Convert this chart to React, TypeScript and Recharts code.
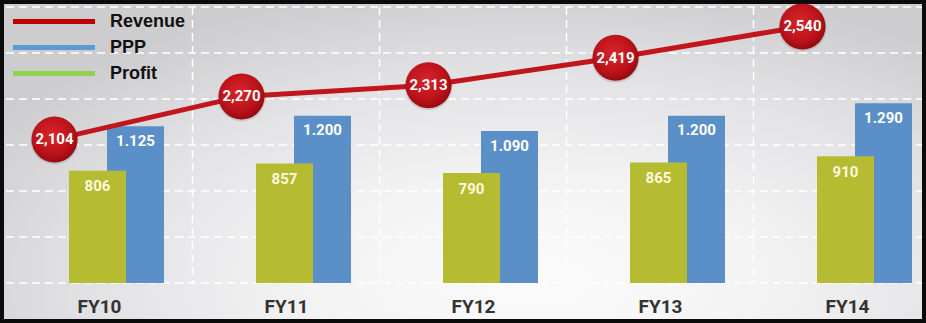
import React from "react";
import {
  ComposedChart,
  Bar,
  Line,
  XAxis,
  YAxis,
  CartesianGrid,
  LabelList,
} from "recharts";

// Данные
const YEARS = ["FY10", "FY11", "FY12", "FY13", "FY14"];
const REVENUE = [2104, 2270, 2313, 2419, 2540];
const PPP = [1125, 1200, 1090, 1200, 1290];
const PROFIT = [806, 857, 790, 865, 910];

const SERIES_NAMES = ["Revenue", "PPP", "Profit"];
const LEGEND_COLORS = ["#c00000", "#5b9bd5", "#92d050"];

// ось для столбиков: шаг сетки
const BAR_TICKS = [0, 330, 660, 990, 1320, 1650, 1980];
const REVENUE_DOMAIN = [1550, 2615];

const RED = "#c3151c";
const BAR_GREEN = "#b5bc31";
const BAR_BLUE = "#5b8fc8";

const rows = YEARS.map((year, i) => ({
  year,
  revenue: REVENUE[i],
  ppp: PPP[i],
  profit: PROFIT[i],
}));

const fmtDot = (v: number) => v.toLocaleString("de-DE");
const fmtComma = (v: number) => v.toLocaleString("en-US");

function RevenueDot(props: any) {
  const { cx, cy, value, index } = props;
  if (cx == null || cy == null) return null;
  return (
    <g key={`rev-${index}`}>
      <circle cx={cx} cy={cy + 1} r={24} fill="rgba(0,0,0,0.12)" />
      <circle cx={cx} cy={cy} r={23} fill="url(#revGrad)" />
      <text
        x={cx}
        y={cy}
        textAnchor="middle"
        dominantBaseline="central"
        fill="#ffffff"
        fontSize={15}
        fontWeight={700}
        fontFamily="Roboto, sans-serif"
      >
        {fmtComma(value)}
      </text>
    </g>
  );
}

// подпись категории под осью
function YearTick(props: any) {
  const { x, y, payload } = props;
  return (
    <text
      x={x}
      y={y + 30}
      textAnchor="middle"
      fill="#333333"
      fontSize={19}
      fontWeight={700}
      fontFamily="Roboto, sans-serif"
    >
      {payload.value}
    </text>
  );
}

function ChartLegend() {
  return (
    <div style={{ position: "absolute", left: 9, top: 4, zIndex: 2 }}>
      {SERIES_NAMES.map((name, i) => (
        <div key={name} style={{ display: "flex", alignItems: "center", height: 26 }}>
          <span
            style={{
              display: "inline-block",
              width: 82,
              height: 5,
              background: LEGEND_COLORS[i],
              marginRight: 15,
            }}
          />
          <span
            style={{
              fontFamily: "'Liberation Sans', Arial, sans-serif",
              fontWeight: 700,
              fontSize: 18,
              color: "#111",
            }}
          >
            {name}
          </span>
        </div>
      ))}
    </div>
  );
}

export default function App() {
  return (
    <div
      style={{
        position: "relative",
        width: 926,
        height: 323,
        boxSizing: "border-box",
        border: "4px solid #0b0b0b",
        overflow: "hidden",
        background:
          "radial-gradient(ellipse 70% 95% at 58% 88%, #fbfbfb 0%, #f3f3f4 35%, #e2e2e4 70%, #cdcdcf 100%)",
        fontFamily: "Roboto, sans-serif",
      }}
    >
      <style>{`body{margin:0}`}</style>
      <ChartLegend />
      <div style={{ position: "absolute", left: -50, top: -4 }}>
        <ComposedChart
          width={1090}
          height={323}
          data={rows}
          margin={{ top: 7, right: 0, bottom: 0, left: 0 }}
          barGap={-95}
        >
          <defs>
            <radialGradient id="revGrad" cx="45%" cy="40%" r="60%">
              <stop offset="0%" stopColor="#d8262c" />
              <stop offset="70%" stopColor="#bb1219" />
              <stop offset="100%" stopColor="#960a10" />
            </radialGradient>
          </defs>
          <CartesianGrid
            xAxisId="grid"
            yAxisId="bars"
            stroke="#ffffff"
            strokeWidth={1.5}
            strokeDasharray="8 5"
          />
          <XAxis
            xAxisId="label"
            dataKey="year"
            height={40}
            axisLine={false}
            tickLine={false}
            tickSize={0}
            tickMargin={0}
            interval={0}
            padding={{ left: 52, right: 103 }}
            tick={<YearTick />}
          />
          {/* скрытые оси: сдвигают столбики, линию и вертикальную сетку внутри категории */}
          <XAxis xAxisId="bars" dataKey="year" hide height={0} padding={{ left: 69, right: 86 }} />
          <XAxis xAxisId="line" dataKey="year" hide height={0} padding={{ left: 7, right: 148 }} />
          <XAxis xAxisId="grid" dataKey="year" hide height={0} interval={0} padding={{ left: 145, right: 10 }} />
          <YAxis yAxisId="bars" hide domain={[0, 1980]} ticks={BAR_TICKS} />
          <YAxis yAxisId="rev" hide domain={REVENUE_DOMAIN} />
          <Bar
            xAxisId="bars"
            yAxisId="bars"
            dataKey="ppp"
            name="PPP"
            fill={BAR_BLUE}
            barSize={57}
            isAnimationActive={false}
          >
            <LabelList
              dataKey="ppp"
              position="insideTop"
              offset={9}
              formatter={(v: any) => fmtDot(Number(v))}
              fill="#ffffff"
              fontSize={15}
              fontWeight={700}
              fontFamily="Roboto, sans-serif"
            />
          </Bar>
          <Bar
            xAxisId="bars"
            yAxisId="bars"
            dataKey="profit"
            name="Profit"
            fill={BAR_GREEN}
            barSize={57}
            isAnimationActive={false}
          >
            <LabelList
              dataKey="profit"
              position="insideTop"
              offset={10}
              fill="#fcf9de"
              fontSize={15}
              fontWeight={700}
              fontFamily="Roboto, sans-serif"
            />
          </Bar>
          <Line
            xAxisId="line"
            yAxisId="rev"
            dataKey="revenue"
            name="Revenue"
            type="linear"
            stroke={RED}
            strokeWidth={5}
            dot={RevenueDot}
            activeDot={false}
            isAnimationActive={false}
          />
        </ComposedChart>
      </div>
    </div>
  );
}
